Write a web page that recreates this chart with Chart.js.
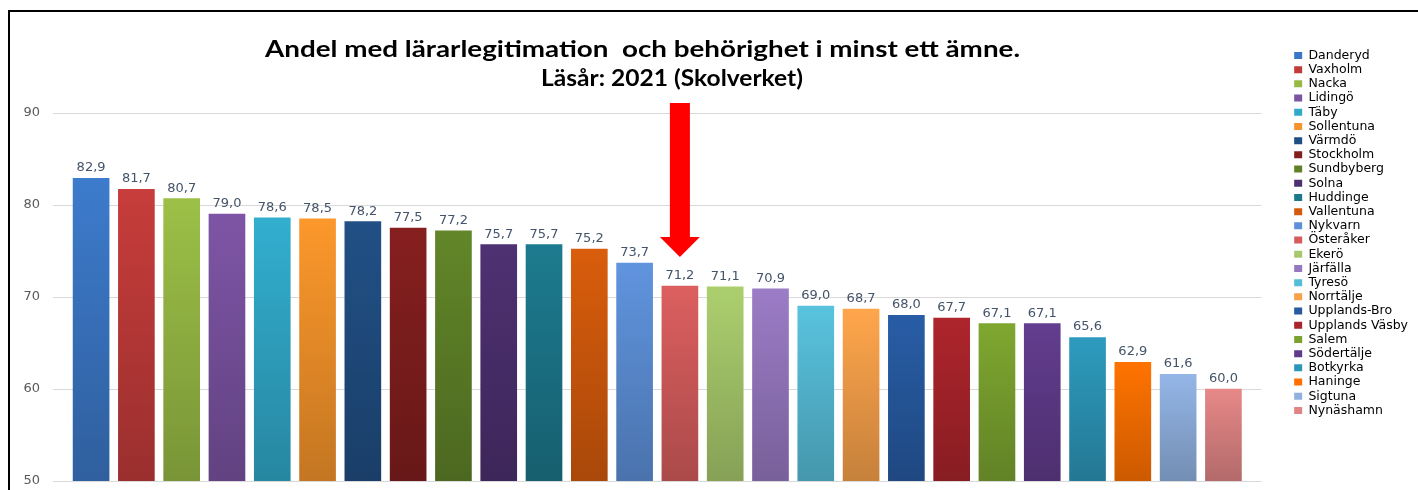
<!DOCTYPE html>
<html><head><meta charset="utf-8">
<script src="https://cdn.jsdelivr.net/npm/chart.js@4.4.1/dist/chart.umd.min.js"></script>
<style>
html,body{margin:0;padding:0;background:#fff;}
#wrap{position:relative;width:1418px;height:490px;overflow:hidden;background:#fff;}
#c{position:absolute;left:0;top:0;}
.frame-top{position:absolute;left:8px;top:10px;width:1410px;height:2px;background:#000;}
.frame-left{position:absolute;left:8px;top:10px;width:2px;height:480px;background:#000;}
.t{position:absolute;font-family:Lato,'Open Sans',sans-serif;font-weight:bold;font-size:23px;line-height:28px;color:#000;white-space:pre;transform-origin:0 0;}
</style></head>
<body>
<div id="wrap">
<canvas id="c" width="1418" height="490"></canvas>
<div class="frame-top"></div><div class="frame-left"></div>
<div class="t" id="t1" data-l="265" data-r="1020" style="top:34px">Andel med lärarlegitimation  och behörighet i minst ett ämne.</div>
<div class="t" id="t2" data-l="541" data-r="803" style="top:63px">Läsår: 2021 (Skolverket)</div>
</div>
<script>
const categories = ['Danderyd','Vaxholm','Nacka','Lidingö','Täby','Sollentuna','Värmdö','Stockholm','Sundbyberg','Solna','Huddinge','Vallentuna','Nykvarn','Österåker','Ekerö','Järfälla','Tyresö','Norrtälje','Upplands-Bro','Upplands Väsby','Salem','Södertälje','Botkyrka','Haninge','Sigtuna','Nynäshamn'];
const values = [82.9,81.7,80.7,79.0,78.6,78.5,78.2,77.5,77.2,75.7,75.7,75.2,73.7,71.2,71.1,70.9,69.0,68.7,68.0,67.7,67.1,67.1,65.6,62.9,61.6,60.0];
const yTickValues = [50,60,70,80,90];
const highlightCategory = 'Österåker';

const barColors = ['#3b77c6','#c13b39','#97ba45','#7a53a1','#31a9c9','#f5942a','#204e82','#821e1e','#5f8228','#4c306f','#1c778b','#d35a0c','#5d90d8','#d65c5c','#a7c96b','#9678c0','#56bdd8','#f8a14a','#275aa1','#a9242b','#7ba22f','#603b8b','#2c96b8','#ff7000','#90b1e0','#e08484'];

// fit title lines to their measured span in the reference
document.querySelectorAll('.t').forEach(el => {
  const l = +el.dataset.l, r = +el.dataset.r;
  el.style.left = l + 'px';
  const w = el.getBoundingClientRect().width;
  el.style.transform = 'scaleX(' + ((r - l) / w) + ')';
});

function shade(hex, f){
  const n = parseInt(hex.slice(1),16);
  let r=(n>>16)&255, g=(n>>8)&255, b=n&255;
  r=Math.round(r*f); g=Math.round(g*f); b=Math.round(b*f);
  return 'rgb('+Math.min(255,r)+','+Math.min(255,g)+','+Math.min(255,b)+')';
}

const barData = categories.map((c,i)=>({x:i, y:values[i]}));
const xPad = 0.84;
const labelColor = '#44546a';

const valueLabels = {
  id:'valueLabels',
  afterDatasetsDraw(chart){
    const ctx = chart.ctx;
    const meta = chart.getDatasetMeta(0);
    ctx.save();
    ctx.font = "13px 'DejaVu Sans', sans-serif";
    ctx.fillStyle = labelColor;
    ctx.textAlign = 'center';
    ctx.textBaseline = 'alphabetic';
    meta.data.forEach((el,i)=>{
      ctx.fillText(values[i].toFixed(1).replace('.',','), el.x, el.y - 7);
    });
    ctx.restore();
  }
};

const arrowPlugin = {
  id:'arrow',
  afterDatasetsDraw(chart){
    const i = categories.indexOf(highlightCategory);
    if (i < 0) return;
    const el = chart.getDatasetMeta(0).data[i];
    const ys = chart.scales.y;
    const x = el.x;
    const tip = el.y - 29;
    const top = ys.getPixelForValue(91.1);
    const headH = 20, shaftHalf = 10, headHalf = 20;
    const ctx = chart.ctx;
    ctx.save();
    ctx.fillStyle = '#ff0000';
    ctx.beginPath();
    ctx.moveTo(x-shaftHalf, top);
    ctx.lineTo(x+shaftHalf, top);
    ctx.lineTo(x+shaftHalf, tip-headH);
    ctx.lineTo(x+headHalf, tip-headH);
    ctx.lineTo(x, tip);
    ctx.lineTo(x-headHalf, tip-headH);
    ctx.lineTo(x-shaftHalf, tip-headH);
    ctx.closePath();
    ctx.fill();
    ctx.restore();
  }
};

new Chart(document.getElementById('c'), {
  type:'bar',
  data:{
    datasets:[{
      data: barData,
      barThickness: 36,
      borderWidth: 0,
      backgroundColor: (c) => {
        const chart = c.chart;
        const base = barColors[c.dataIndex] || '#888888';
        const area = chart.chartArea;
        const ys = chart.scales.y;
        if (!area || !ys || c.parsed === undefined) return base;
        const top = ys.getPixelForValue(c.parsed.y);
        const bottom = ys.getPixelForValue(ys.min);
        if (!isFinite(top) || !isFinite(bottom) || bottom <= top) return base;
        const g = chart.ctx.createLinearGradient(0, top, 0, bottom);
        g.addColorStop(0, shade(base, 1.03));
        g.addColorStop(1, shade(base, 0.8));
        return g;
      }
    }]
  },
  options:{
    responsive:false,
    animation:false,
    devicePixelRatio:1,
    layout:{padding:{top:47.5,left:10.5,right:0,bottom:1}},
    plugins:{
      title:{display:false},
      tooltip:{enabled:false},
      legend:{
        position:'right',
        align:'start',
        onClick:null,
        labels:{
          boxWidth:8,
          boxHeight:7,
          padding:1.7,
          color:labelColor,
          font:{family:"'DejaVu Sans', sans-serif", size:12.5},
          generateLabels: () => categories.map((c,i)=>({text:c, fillStyle:barColors[i], strokeStyle:barColors[i], lineWidth:0, hidden:false, index:i}))
        }
      }
    },
    scales:{
      x:{type:'linear', min:-xPad, max:categories.length-1+xPad, bounds:'data', offset:false, display:true, grid:{display:false}, ticks:{display:false}, border:{display:false}},
      y:{
        min:50, max:90,
        afterBuildTicks: s => { s.ticks = yTickValues.map(v=>({value:v})); },
        afterFit: s => { s.paddingTop = 0; s.paddingBottom = 0; },
        grid:{color:'#d9d9d9', drawTicks:false, lineWidth:1},
        border:{display:false},
        ticks:{padding:13, color:'#595959', font:{size:13, family:"'DejaVu Sans', sans-serif"}}
      },
      topSpace:{type:'linear', position:'top', axis:'x', display:true, grid:{display:false}, ticks:{display:false}, border:{display:false}, afterFit: s => { s.height = 65.5; }},
      rightSpace:{type:'linear', position:'right', axis:'y', display:true, grid:{display:false}, ticks:{display:false}, border:{display:false}, afterFit: s => { s.width = 31; }}
    }
  },
  plugins:[valueLabels, arrowPlugin]
});
</script>
</body></html>
